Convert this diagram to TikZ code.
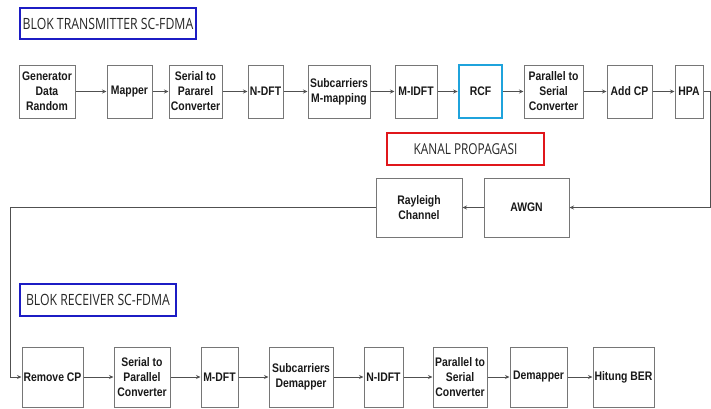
\documentclass[tikz,border=0pt]{standalone}
\usepackage{fontspec}
\setmainfont{Liberation Sans}
\newfontfamily\boxfont[FakeStretch=0.84]{Liberation Sans}
\newfontfamily\titlefont[FakeStretch=0.79]{Open Sans}
\usetikzlibrary{arrows.meta}
\definecolor{tblue}{HTML}{1C1CC4}
\definecolor{rcfblue}{HTML}{1FA3DC}
\definecolor{kred}{HTML}{E0161B}
\definecolor{edgegray}{HTML}{767676}
\definecolor{linegray}{HTML}{505050}
\tikzset{
  blk/.style={draw=edgegray, line width=1pt, fill=white, align=center, inner sep=1pt,
    font=\boxfont\bfseries\fontsize{12.4}{15}\selectfont, text=black!90},
  ttl/.style={draw=tblue, line width=2.6pt, inner sep=0pt,
    font=\titlefont\fontsize{15.5}{17}\selectfont, text=black!85},
  conn/.style={draw=linegray, line width=0.8pt, -{Stealth[length=4.5pt,width=4pt]}},
  wire/.style={draw=linegray, line width=0.8pt}
}
\begin{document}
\begin{tikzpicture}[x=1pt,y=-1pt]
\useasboundingbox (0,0) rectangle (711,408);
% titles
\node[ttl, minimum width=176, minimum height=31] (ttx) at (108,23.5) {BLOK TRANSMITTER SC-FDMA};
\node[ttl, minimum width=156, minimum height=32] (trx) at (98,300) {BLOK RECEIVER SC-FDMA};
\node[ttl, draw=kred, minimum width=157, minimum height=32, font=\titlefont\fontsize{15}{17}\selectfont] (tch) at (465.5,149) {KANAL PROPAGASI};
% transmitter row
\node[blk, minimum width=56, minimum height=53] (gen) at (47,91.5) {Generator\\Data\\Random};
\node[blk, minimum width=45, minimum height=53] (map) at (129.5,91.5) {Mapper};
\node[blk, minimum width=53, minimum height=53] (stp) at (195.5,91.5) {Serial to\\Pararel\\Converter};
\node[blk, minimum width=35, minimum height=53] (ndft) at (265.5,91.5) {N-DFT};
\node[blk, minimum width=62, minimum height=53] (subm) at (339,91.5) {Subcarriers\\M-mapping};
\node[blk, minimum width=42, minimum height=53] (midft) at (416,91.5) {M-IDFT};
\node[blk, draw=rcfblue, line width=2.6pt, minimum width=43, minimum height=53] (rcf) at (480.5,91.5) {RCF};
\node[blk, minimum width=59, minimum height=53] (pts) at (553.5,91.5) {Parallel to\\Serial\\Converter};
\node[blk, minimum width=45, minimum height=53] (addcp) at (629.5,91.5) {Add CP};
\node[blk, minimum width=28, minimum height=53] (hpa) at (689,91.5) {HPA};
% channel
\node[blk, minimum width=86, minimum height=59] (ray) at (419,207.5) {Rayleigh\\Channel};
\node[blk, minimum width=85, minimum height=59] (awgn) at (526.5,207.5) {AWGN};
% receiver row
\node[blk, minimum width=61, minimum height=60] (rmcp) at (52.5,377) {Remove CP};
\node[blk, minimum width=56, minimum height=60] (stp2) at (142,377) {Serial to\\Parallel\\Converter};
\node[blk, minimum width=37, minimum height=60] (mdft) at (219.5,377) {M-DFT};
\node[blk, minimum width=64, minimum height=60] (subd) at (301,377) {Subcarriers\\Demapper};
\node[blk, minimum width=39, minimum height=60] (nidft) at (383.5,377) {N-IDFT};
\node[blk, minimum width=54, minimum height=60] (pts2) at (460,377) {Parallel to\\Serial\\Converter};
\node[blk, minimum width=57, minimum height=60] (demap) at (538.5,377) {Demapper};
\node[blk, minimum width=61, minimum height=60] (ber) at (623.5,377) {Hitung BER};
% helper coordinates
\coordinate (r1) at (710,91.5);
\coordinate (r2) at (710,207.5);
\coordinate (l1) at (10,207.5);
\coordinate (l2) at (10,377);
% connectors
\draw[conn] (gen) -- (map);
\draw[conn] (map) -- (stp);
\draw[conn] (stp) -- (ndft);
\draw[conn] (ndft) -- (subm);
\draw[conn] (subm) -- (midft);
\draw[conn] (midft) -- (rcf);
\draw[conn] (rcf) -- (pts);
\draw[conn] (pts) -- (addcp);
\draw[conn] (addcp) -- (hpa);
\draw[conn] (hpa.east) -- (r1) -- (r2) -- (awgn.east);
\draw[conn] (awgn) -- (ray);
\draw[conn] (ray.west) -- (l1) -- (l2) -- (rmcp.west);
\draw[conn] (rmcp) -- (stp2);
\draw[conn] (stp2) -- (mdft);
\draw[conn] (mdft) -- (subd);
\draw[conn] (subd) -- (nidft);
\draw[conn] (nidft) -- (pts2);
\draw[conn] (pts2) -- (demap);
\draw[conn] (demap) -- (ber);
\end{tikzpicture}
\end{document}
